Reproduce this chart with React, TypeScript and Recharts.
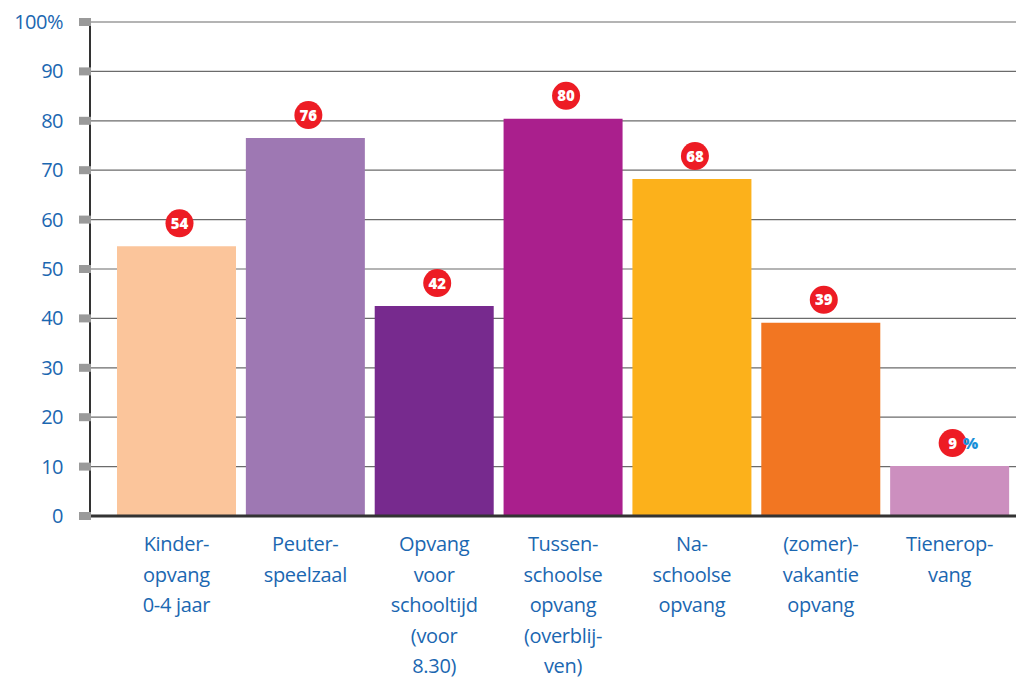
import React from "react";
import {
  BarChart,
  Bar,
  XAxis,
  YAxis,
  CartesianGrid,
  Cell,
  LabelList,
} from "recharts";

const categories = [
  "Kinder-\nopvang\n0-4 jaar",
  "Peuter-\nspeelzaal",
  "Opvang\nvoor\nschooltijd\n(voor\n8.30)",
  "Tussen-\nschoolse\nopvang\n(overblij-\nven)",
  "Na-\nschoolse\nopvang",
  "(zomer)-\nvakantie\nopvang",
  "Tienerop-\nvang",
];
const values = [54.6, 76.5, 42.5, 80.4, 68.2, 39.1, 10.1];
const badges = [54, 76, 42, 80, 68, 39, 9];
const colors = [
  "#fbc59b",
  "#9e78b3",
  "#772a8e",
  "#aa1f8d",
  "#fcb11b",
  "#f27622",
  "#cc8fbf",
];
const yTicks = [0, 10, 20, 30, 40, 50, 60, 70, 80, 90, 100];

const data = categories.map((name, i) => ({
  name,
  value: values[i],
  badge: badges[i],
}));

const BLUE = "#1b67b1";
const FONT = "'Open Sans', 'Noto Sans', sans-serif";

function YTick(props: any) {
  const { x, y, payload } = props;
  const v = payload.value;
  return (
    <g>
      <rect x={x - 11} y={y - 4} width={12} height={8} fill="#9a9a9a" />
      <text
        x={x - 27}
        y={y}
        dy={7}
        textAnchor="end"
        fill={BLUE}
        fontSize={20}
        fontWeight={500}
        fontFamily={FONT}
        letterSpacing={-0.5}
      >
        {v === 100 ? "100%" : v}
      </text>
    </g>
  );
}

function XTick(props: any) {
  const { x, y, payload } = props;
  const lines = String(payload.value).split("\n");
  return (
    <text
      x={x}
      y={y + 35}
      textAnchor="middle"
      fill={BLUE}
      fontSize={20}
      fontWeight={500}
      fontFamily={FONT}
      letterSpacing={-0.3}
    >
      {lines.map((l, i) => (
        <tspan key={i} x={x} dy={i === 0 ? 0 : 30.5}>
          {l}
        </tspan>
      ))}
    </text>
  );
}

function Badge(props: any) {
  const { x, y, width, value, index } = props;
  const cx = x + width / 2 + 3;
  const cy = y - 23;
  const last = index === badges.length - 1;
  return (
    <g>
      <circle cx={cx} cy={cy} r={14} fill="#ed1c24" />
      <text
        x={cx}
        y={cy}
        dy={5.5}
        textAnchor="middle"
        fill="#fff"
        fontSize={15}
        fontWeight={800}
        fontFamily={FONT}
      >
        {value}
      </text>
      {last && (
        <text
          x={cx + 18}
          y={cy}
          dy={6}
          textAnchor="middle"
          fill="#1a8fd8"
          fontSize={16}
          fontWeight={800}
          fontFamily={FONT}
        >
          %
        </text>
      )}
    </g>
  );
}

export default function App() {
  return (
    <div style={{ position: "absolute", left: 0, top: 0, width: 1016, height: 680, background: "#fff" }}>
      <BarChart
        width={1016}
        height={680}
        data={data}
        margin={{ top: 22, right: 0, bottom: 0, left: 0 }}
        barSize={119}
      >
        <CartesianGrid horizontal vertical={false} stroke="#6b6b6b" strokeWidth={1.2} />
        <XAxis
          dataKey="name"
          interval={0}
          height={164}
          tickSize={0}
          tickMargin={0}
          tick={<XTick />}
          axisLine={{ stroke: "#333", strokeWidth: 3 }}
          padding={{ left: 22, right: 2 }}
        />
        <YAxis
          width={90}
          domain={[0, 100]}
          ticks={yTicks}
          tickSize={0}
          tickMargin={0}
          tickLine={false}
          tick={<YTick />}
          axisLine={{ stroke: "#333", strokeWidth: 2 }}
        />
        <Bar dataKey="value" isAnimationActive={false}>
          {data.map((d, i) => (
            <Cell key={i} fill={colors[i]} />
          ))}
          <LabelList dataKey="badge" content={<Badge />} />
        </Bar>
      </BarChart>
    </div>
  );
}
